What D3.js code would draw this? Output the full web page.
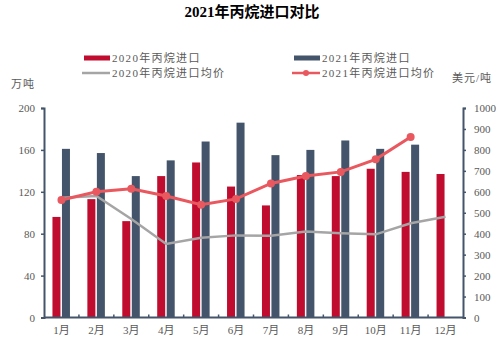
<!DOCTYPE html>
<html>
<head>
<meta charset="utf-8">
<script src="https://cdn.jsdelivr.net/npm/d3@7/dist/d3.min.js"></script>
<style>
  html, body { margin: 0; padding: 0; background: #fff; }
  svg { display: block; }
  text { font-family: "Liberation Serif", "DejaVu Serif", "Noto Sans CJK SC", serif; }
</style>
</head>
<body>
<svg id="chart" width="504" height="343"></svg>
<script>
// Monthly propane imports (10k tonnes) and average import price (USD/t)
const months = ["1月","2月","3月","4月","5月","6月","7月","8月","9月","10月","11月","12月"];
const imports2020 = [96, 113, 92, 135, 148, 125, 107, 136, 135, 142, 139, 137];
const imports2021 = [161, 157, 135, 150, 168, 186, 155, 160, 169, 161, 165, null];
const price2020 = [572, 580, 470, 351, 381, 392, 390, 410, 402, 397, 450, 481];
const price2021 = [561, 600, 615, 580, 538, 566, 640, 675, 695, 755, 862, null];
const leftTicks = [0, 40, 80, 120, 160, 200];
const rightTicks = [0, 100, 200, 300, 400, 500, 600, 700, 800, 900, 1000];

const C = {
  red: "#c00c2e",
  navy: "#44546a",
  gray: "#a5a5a5",
  line21: "#e8585e",
  text: "#595959",
  axis: "#44546a"
};

const svg = d3.select("#chart");
const plot = { left: 44, right: 463, top: 108, bottom: 317.5 };

const x = d3.scaleBand().domain(months).range([plot.left, plot.right]).padding(0);
const yL = d3.scaleLinear().domain([0, 200]).range([plot.bottom, plot.top]);
const yR = d3.scaleLinear().domain([0, 1000]).range([plot.bottom, plot.top]);

// Title
svg.append("text")
  .attr("x", 252).attr("y", 17)
  .attr("text-anchor", "middle")
  .attr("font-size", 15).attr("font-weight", "bold")
  .attr("fill", "#000")
  .text("2021年丙烷进口对比");

// Unit labels
svg.append("text").attr("x", 11).attr("y", 88)
  .attr("font-size", 11).attr("letter-spacing", 1).attr("fill", C.text).text("万吨");
svg.append("text").attr("x", 452).attr("y", 82)
  .attr("font-size", 11).attr("letter-spacing", 1).attr("fill", C.text).text("美元/吨");

// Legend
const lg = svg.append("g").attr("font-size", 11).attr("letter-spacing", 1.3);
const row1 = 58, row2 = 73;
lg.append("rect").attr("x", 84).attr("y", row1 - 2.5).attr("width", 26).attr("height", 5).attr("fill", C.red);
lg.append("text").attr("x", 112).attr("y", row1 + 4).attr("fill", C.text).text("2020年丙烷进口");
lg.append("line").attr("x1", 82).attr("x2", 110).attr("y1", row2).attr("y2", row2)
  .attr("stroke", C.gray).attr("stroke-width", 2.5);
lg.append("text").attr("x", 112).attr("y", row2 + 4).attr("fill", C.text).text("2020年丙烷进口均价");
lg.append("rect").attr("x", 294).attr("y", row1 - 2.5).attr("width", 26).attr("height", 5).attr("fill", C.navy);
lg.append("text").attr("x", 322).attr("y", row1 + 4).attr("fill", C.text).text("2021年丙烷进口");
lg.append("line").attr("x1", 292).attr("x2", 320).attr("y1", row2).attr("y2", row2)
  .attr("stroke", C.line21).attr("stroke-width", 2.5);
lg.append("circle").attr("cx", 306).attr("cy", row2).attr("r", 3).attr("fill", C.line21);
lg.append("text").attr("x", 322).attr("y", row2 + 4).attr("fill", C.text).text("2021年丙烷进口均价");

// Bars
const bw = 8;
svg.append("g").selectAll("rect").data(months).join("rect")
  .attr("x", d => x(d) + x.bandwidth() / 2 - 9)
  .attr("width", bw)
  .attr("y", (d, i) => yL(imports2020[i]))
  .attr("height", (d, i) => yL(0) - yL(imports2020[i]))
  .attr("fill", C.red);

svg.append("g").selectAll("rect")
  .data(months.map((m, i) => ({ m, v: imports2021[i] })).filter(d => d.v != null))
  .join("rect")
  .attr("x", d => x(d.m) + x.bandwidth() / 2 + 0.5)
  .attr("width", bw)
  .attr("y", d => yL(d.v))
  .attr("height", d => yL(0) - yL(d.v))
  .attr("fill", C.navy);

// Price lines
const cx = m => x(m) + x.bandwidth() / 2;
const line = d3.line().x(d => cx(d.m)).y(d => yR(d.v));

const p20 = months.map((m, i) => ({ m, v: price2020[i] }));
svg.append("path").datum(p20).attr("d", line)
  .attr("fill", "none").attr("stroke", C.gray).attr("stroke-width", 2.5);

const p21 = months.map((m, i) => ({ m, v: price2021[i] })).filter(d => d.v != null);
svg.append("path").datum(p21).attr("d", line)
  .attr("fill", "none").attr("stroke", C.line21).attr("stroke-width", 3);
svg.append("g").selectAll("circle").data(p21).join("circle")
  .attr("cx", d => cx(d.m)).attr("cy", d => yR(d.v)).attr("r", 4)
  .attr("fill", C.line21);

// Axes
const axL = svg.append("g").attr("transform", `translate(${plot.left},0)`)
  .call(d3.axisLeft(yL).tickValues(leftTicks).tickSize(3).tickPadding(6));
const axR = svg.append("g").attr("transform", `translate(${plot.right},0)`)
  .call(d3.axisRight(yR).tickValues(rightTicks).tickFormat(d3.format("d")).tickSize(3).tickPadding(8));
const axB = svg.append("g").attr("transform", `translate(0,${plot.bottom})`)
  .call(d3.axisBottom(x).tickSize(0).tickPadding(9));

[axL, axR, axB].forEach(g => {
  g.select(".domain").attr("stroke", C.axis).attr("stroke-width", 2);
  g.selectAll(".tick line").attr("stroke", C.axis).attr("stroke-width", 1.5);
  g.selectAll(".tick text").attr("fill", C.text).attr("font-size", 11)
    .attr("font-family", "'Liberation Serif', 'DejaVu Serif', 'Noto Sans CJK SC', serif");
});
axB.select(".domain").attr("d", `M${plot.left},0H${plot.right}`);

// Small category separators along the base line
svg.append("g").selectAll("line").data(months.slice(1)).join("line")
  .attr("x1", d => x(d)).attr("x2", d => x(d))
  .attr("y1", plot.bottom).attr("y2", plot.bottom - 3)
  .attr("stroke", C.axis).attr("stroke-width", 1.5);
</script>
</body>
</html>
